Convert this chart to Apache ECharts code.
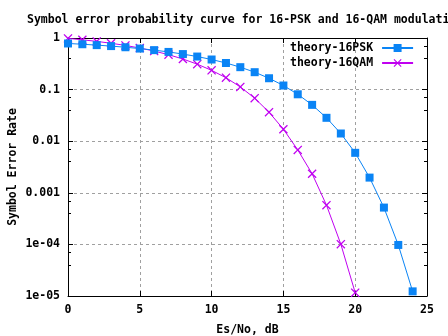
<!DOCTYPE html>
<html><head><meta charset="utf-8">
<script src="https://cdn.jsdelivr.net/npm/echarts@6/dist/echarts.min.js"></script>
<style>html,body{margin:0;padding:0;background:#fff}#c{width:448px;height:336px}</style>
</head><body><div id="c"></div>
<script>
var titleText = 'Symbol error probability curve for 16-PSK and 16-QAM modulation';
var xName = 'Es/No, dB';
var yName = 'Symbol Error Rate';
var pskNames = 'theory-16PSK';
var qamNames = 'theory-16QAM';
var pskX = [0,1,2,3,4,5,6,7,8,9,10,11,12,13,14,15,16,17,18,19,20,21,22,23,24];
var pskY = [0.783,0.757,0.728,0.697,0.662,0.624,0.582,0.537,0.488,0.437,0.383,0.328,0.272,0.2175,0.166,0.120,0.0811,0.0506,0.0284,0.0141,0.00595,0.00197,0.000517,0.0000976,0.0000123];
var qamX = [0,1,2,3,4,5,6,7,8,9,10,11,12,13,14,15,16,17,18,19,20];
var qamY = [0.982,0.924,0.860,0.791,0.718,0.639,0.559,0.475,0.392,0.311,0.236,0.170,0.1128,0.0681,0.0365,0.01706,0.00678,0.00234,0.000576,0.000101,0.0000116];
var xTicks = [0,5,10,15,20,25];
var yTickLabels = {'0':'1','-1':'0.1','-2':'0.01','-3':'0.001','-4':'1e-04','-5':'1e-05'};

var FONT = 'DejaVu Sans Mono';
var txt = {fontFamily: FONT, fontWeight: 'bold', fontSize: 11.5, color: '#000'};
var crossPath = 'path://M0,1L1,0L5,4L9,0L10,1L6,5L10,9L9,10L5,6L1,10L0,9L4,5Z';
var blue = '#0a84f5', purple = '#c000f0';

function pairs(xs, ys){ return xs.map(function(x,i){return [x, ys[i]];}); }

var chart = echarts.init(document.getElementById('c'), null, {renderer:'canvas'});
var axisLine = {show:true, onZero:false, lineStyle:{color:'#000', width:1}};
var grid = {show:true, lineStyle:{color:'#a0a0a0', type:[3,3], width:1}};
chart.setOption({
  animation:false,
  backgroundColor:'#fff',
  title:{text:titleText, left:22, top:9, textStyle:Object.assign({}, txt)},
  grid:{left:68, right:21, top:38, bottom:40, containLabel:false, outerBoundsMode:'none'},
  legend:{orient:'vertical', align:'right', left:285, top:37, itemWidth:31, itemHeight:10, itemGap:3,
    textStyle:Object.assign({padding:[0,4,0,0]}, txt),
    data:[pskNames, qamNames]},
  xAxis:[{type:'value', min:xTicks[0], max:xTicks[xTicks.length-1], interval:5, position:'bottom',
      name:xName, nameLocation:'middle', nameGap:28, nameMoveOverlap:false, nameTextStyle:Object.assign({}, txt),
      axisLine:axisLine, axisTick:{show:true, inside:true, length:5, lineStyle:{color:'#000'}},
      axisLabel:Object.assign({margin:8}, txt), splitLine:grid},
    {type:'value', min:xTicks[0], max:xTicks[xTicks.length-1], interval:5, position:'top',
      axisLine:axisLine, axisTick:{show:true, inside:true, length:5, lineStyle:{color:'#000'}},
      axisLabel:{show:false}, splitLine:{show:false}}],
  yAxis:[{type:'log', logBase:10, min:1e-5, max:1, position:'left',
      name:yName, nameLocation:'middle', nameGap:49, nameMoveOverlap:false, nameTextStyle:Object.assign({}, txt),
      axisLine:axisLine, axisTick:{show:true, inside:true, length:5, lineStyle:{color:'#000'}},
      minorTick:{show:true, splitNumber:3, length:3, lineStyle:{color:'#000'}},
      axisLabel:Object.assign({margin:8, formatter:function(v){var e=Math.round(Math.log10(v));return yTickLabels[String(e)];}}, txt),
      splitLine:grid},
    {type:'log', logBase:10, min:1e-5, max:1, position:'right',
      axisLine:axisLine, axisTick:{show:true, inside:true, length:5, lineStyle:{color:'#000'}},
      minorTick:{show:true, splitNumber:3, length:3, lineStyle:{color:'#000'}},
      axisLabel:{show:false}, splitLine:{show:false}}],
  series:[
    {name:pskNames, type:'line', xAxisIndex:0, yAxisIndex:0, data:pairs(pskX, pskY),
     symbol:'rect', symbolSize:8, showAllSymbol:true,
     lineStyle:{color:blue, width:1}, itemStyle:{color:blue}, z:3},
    {name:qamNames, type:'line', xAxisIndex:0, yAxisIndex:0, data:pairs(qamX, qamY),
     symbol:crossPath, symbolSize:9, showAllSymbol:true,
     lineStyle:{color:purple, width:1}, itemStyle:{color:purple}, z:2}
  ]
});
</script></body></html>
